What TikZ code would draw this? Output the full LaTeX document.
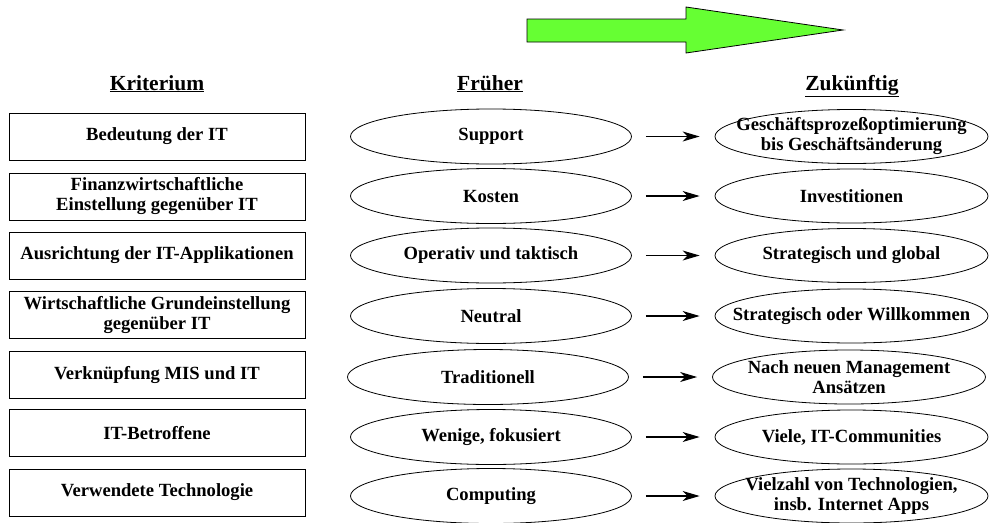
\documentclass[tikz,border=0pt]{standalone}
\usepackage{fontspec}
\setmainfont{Liberation Serif}
\usetikzlibrary{arrows.meta}
\usetikzlibrary{shapes.geometric}
\usetikzlibrary{positioning}

\definecolor{pfeilgruen}{RGB}{102,255,51}

\tikzset {
  kopf/.style = {
    inner sep = 0,
    anchor = base,
    font = \bfseries\fontsize{21.5}{24}\selectfont
  },
  % box with the criterion
  krit/.style = {
    draw = black,
    line width = 0.8pt,
    rectangle,
    minimum width = 296pt,
    minimum height = 47pt,
    inner sep = 0,
    align = center,
    font = \bfseries\fontsize{18.6}{20}\selectfont
  },
  txt/.style = {
    inner sep = 0,
    align = center,
    font = \bfseries\fontsize{18.6}{20}\selectfont
  },
  oval/.style = {
    draw = black,
    line width = 0.8pt,
    ellipse,
    inner sep = 0
  },
  frueher/.style = {
    oval,
    minimum width = 281pt,
    minimum height = 55pt,
    label = {[txt]center:#1}
  },
  zukunft/.style = {
    oval,
    minimum width = 273pt,
    minimum height = 54pt,
    label = {[txt]center:#1}
  },
  % arrow between old and new
  pfeil/.style = {
    draw = black,
    line width = 1.1pt,
    -{Stealth[length = 17pt, width = 10pt, inset = 5pt]},
    shorten <= 14pt,
    shorten >= 15pt
  }
}

\begin{document}
\begin{tikzpicture}[x = 1pt, y = -1pt]
    \useasboundingbox (0,0) rectangle (990,522);

    % big green arrow
    \draw [fill = pfeilgruen, line width = 0.8pt]
      (527,19) -- (686,19) -- (686,7) -- (843,30)
      -- (686,53) -- (686,42) -- (527,42) -- cycle;

    \node[kopf] (kriterium) at (157,90) {\underline{Kriterium}};
    \node[kopf] (frueher) at (490,90) {\underline{Früher}};
    \node[kopf] (zukuenftig) at (852,90) {\underline{Zukünftig}};

    \node[krit] (k1) at (157,136.5) {Bedeutung der IT};
    \node[krit] (k2) at (157,196.5) {Finanzwirtschaftliche\\Einstellung gegenüber IT};
    \node[krit] (k3) at (157,255.5) {Ausrichtung der IT-Applikationen};
    \node[krit] (k4) at (157,315) {Wirtschaftliche Grundeinstellung\\gegenüber IT};
    \node[krit] (k5) at (157,374.5) {Verknüpfung MIS und IT};
    \node[krit] (k6) at (157,433) {IT-Betroffene};
    \node[krit] (k7) at (157,492.5) {Verwendete Technologie};

    \node[frueher = {Support}] (f1) at (491,136.5) {};
    \node[frueher = {Kosten}] (f2) at (491,196) {};
    \node[frueher = {Operativ und taktisch}] (f3) at (491,255.5) {};
    \node[frueher = {Neutral}] (f4) at (491,316) {};
    \node[frueher = {Traditionell}] (f5) at (488,377) {};
    \node[frueher = {Wenige, fokusiert}] (f6) at (491,437) {};
    \node[frueher = {Computing}] (f7) at (491,496) {};

    \node[zukunft = {Geschäftsprozeßoptimierung\\bis Geschäftsänderung}] (z1) at (851.5,136.5) {};
    \node[zukunft = {Investitionen}] (z2) at (851.5,196) {};
    \node[zukunft = {Strategisch und global}] (z3) at (851.5,255.5) {};
    \node[zukunft = {Strategisch oder Willkommen}] (z4) at (851.5,316) {};
    \node[zukunft = {Nach neuen Management\\Ansätzen}] (z5) at (849,377) {};
    \node[zukunft = {Viele, IT-Communities}] (z6) at (851.5,437) {};
    \node[zukunft = {Vielzahl von Technologien,\\insb. Internet Apps}] (z7) at (851.5,496) {};

    \draw [pfeil] (f1) -- (z1);
    \draw [pfeil] (f2) -- (z2);
    \draw [pfeil] (f3) -- (z3);
    \draw [pfeil] (f4) -- (z4);
    \draw [pfeil] (f5) -- (z5);
    \draw [pfeil] (f6) -- (z6);
    \draw [pfeil] (f7) -- (z7);
\end{tikzpicture}
\end{document}
